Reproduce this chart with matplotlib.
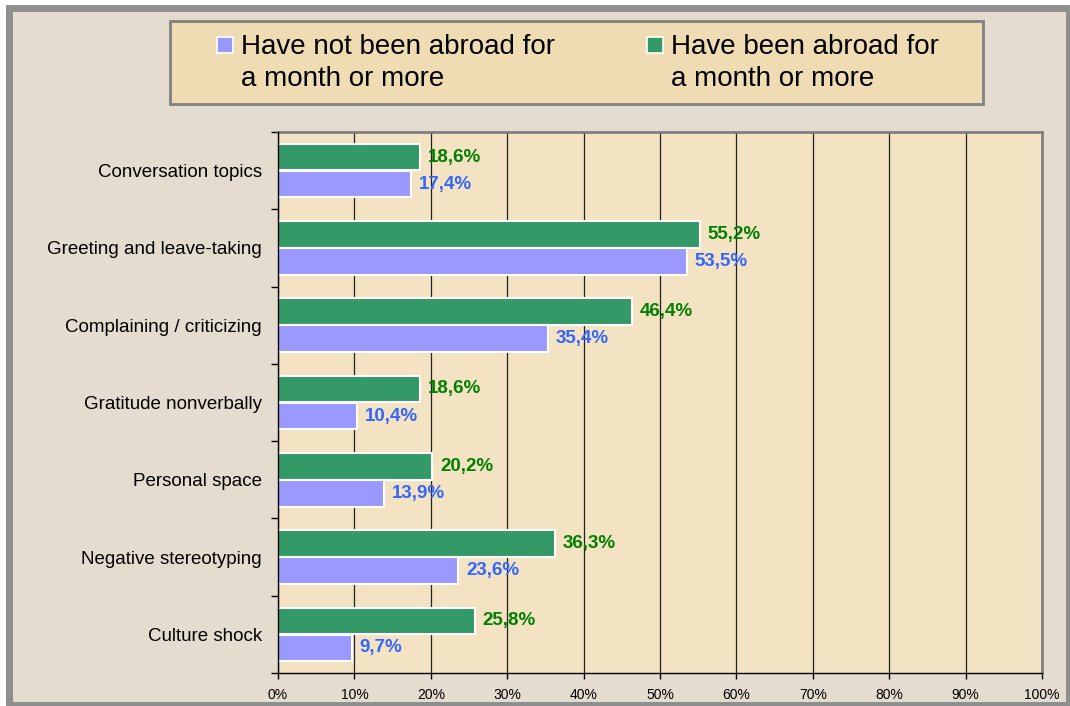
import matplotlib
matplotlib.use("Agg")
import matplotlib.pyplot as plt
from matplotlib.patches import Rectangle

plt.rcParams['font.family'] = ['Liberation Sans', 'DejaVu Sans']

# data, top to bottom
categories = ["Conversation topics", "Greeting and leave-taking", "Complaining / criticizing",
              "Gratitude nonverbally", "Personal space", "Negative stereotyping", "Culture shock"]
not_abroad = [17.4, 53.5, 35.4, 10.4, 13.9, 23.6, 9.7]
abroad = [18.6, 55.2, 46.4, 18.6, 20.2, 36.3, 25.8]
series_names = ["Have not been abroad for\na month or more", "Have been abroad for\na month or more"]
xticks = [0, 10, 20, 30, 40, 50, 60, 70, 80, 90, 100]

W, H = 1070, 706
BLUE = "#9999ff"
GREEN = "#339966"
BLUE_TXT = "#3366ff"
GREEN_TXT = "#008000"

def px(x, y):
    return x / W, 1 - y / H

fig = plt.figure(figsize=(W / 100, H / 100), dpi=100, facecolor="white")

# outer frame
fig.patches.append(Rectangle(px(6, 706), (1070 - 6) / W, (706 - 5) / H, transform=fig.transFigure,
                             facecolor="#8f8f8f", edgecolor="none", zorder=-10))
fig.patches.append(Rectangle(px(13, 702), (1066 - 13) / W, (702 - 12) / H, transform=fig.transFigure,
                             facecolor="#e4dccf", edgecolor="none", zorder=-9))

# legend box drawn by hand
fig.patches.append(Rectangle(px(170, 104), (983 - 170) / W, (104 - 21) / H, transform=fig.transFigure,
                             facecolor="#f0dcb2", edgecolor="#808080", linewidth=2, zorder=-8))
for (mx, tx), col, name in zip([(217, 241), (647, 671)], [BLUE, GREEN], series_names):
    fig.patches.append(Rectangle(px(mx, 53), 16 / W, 16 / H, transform=fig.transFigure,
                                 facecolor=col, edgecolor="white", linewidth=1.2, zorder=-7))
    l1, l2 = name.split("\n")
    fig.text(*px(tx, 54), l1, fontsize=20, va="baseline", ha="left")
    fig.text(*px(tx, 86), l2, fontsize=20, va="baseline", ha="left")

ax = fig.add_axes([278 / W, 1 - 673 / H, (1042 - 278) / W, (673 - 132) / H])
ax.set_facecolor("#f3e3c2")

ypos = list(range(len(categories)))
h = 0.345
off = 0.175
ax.barh([y - off for y in ypos], abroad, height=h, color=GREEN, edgecolor="white", linewidth=1.5, zorder=3)
ax.barh([y + off for y in ypos], not_abroad, height=h, color=BLUE, edgecolor="white", linewidth=1.5, zorder=3)

for y, a, n in zip(ypos, abroad, not_abroad):
    ax.annotate(f"{a:.1f}%".replace(".", ","), (a, y - off), xytext=(5.5, 0), textcoords="offset points",
                va="center", ha="left", fontsize=13.5, fontweight="bold", color=GREEN_TXT, zorder=4)
    ax.annotate(f"{n:.1f}%".replace(".", ","), (n, y + off), xytext=(5.5, 0), textcoords="offset points",
                va="center", ha="left", fontsize=13.5, fontweight="bold", color=BLUE_TXT, zorder=4)

ax.set_xlim(0, 100)
ax.set_ylim(len(categories) - 0.5, -0.5)

ax.set_xticks(xticks)
ax.set_xticklabels([f"{t}%" for t in xticks], fontsize=10)
ax.tick_params(axis="x", direction="out", length=4, width=1, pad=7)
ax.xaxis.grid(True, color="#222222", linewidth=0.9, zorder=1)
ax.set_axisbelow(True)

ax.set_yticks([y - 0.5 for y in range(len(categories) + 1)])
ax.set_yticklabels([])
ax.set_yticks(ypos, minor=True)
ax.set_yticklabels(categories, minor=True, fontsize=13.5)
ax.tick_params(axis="y", which="major", direction="out", length=5, width=1)
ax.tick_params(axis="y", which="minor", length=0, pad=11.5)

for s in ["left", "bottom"]:
    ax.spines[s].set_color("black")
    ax.spines[s].set_linewidth(1)
    ax.spines[s].set_zorder(5)
for s in ["top", "right"]:
    ax.spines[s].set_color("#808080")
    ax.spines[s].set_linewidth(2)

fig.savefig("out.png", dpi=100, facecolor=fig.get_facecolor())
